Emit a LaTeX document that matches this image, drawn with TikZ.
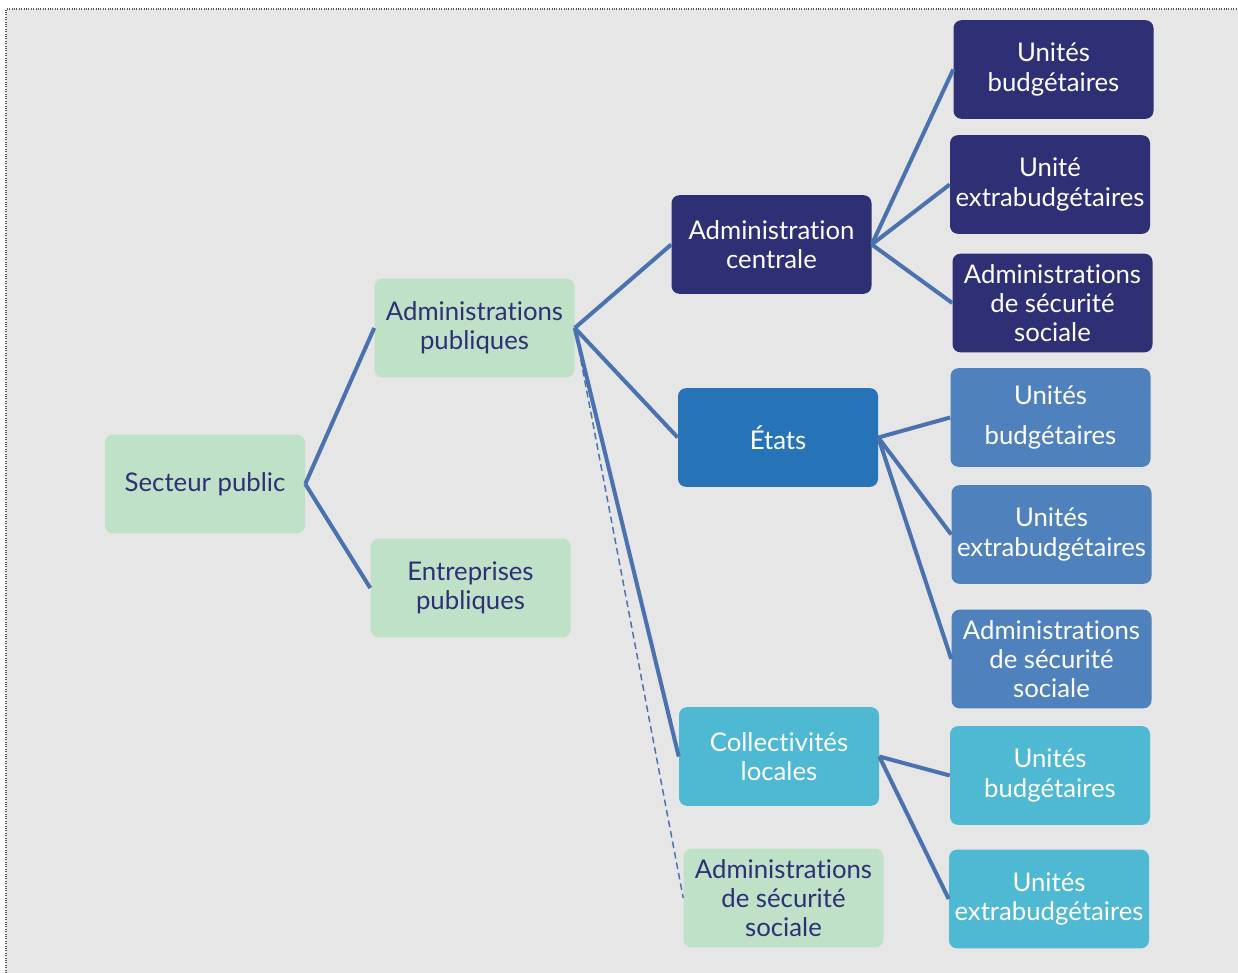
\documentclass[tikz,border=0pt]{standalone}
\usepackage{fontspec}
\setmainfont{Lato}[Ligatures=NoCommon]
\usepackage{tikz}
\usetikzlibrary{positioning, arrows.meta}
\definecolor{bgcol}{HTML}{E6E6E6}
\definecolor{navy}{HTML}{2E2F75}
\definecolor{greenbox}{HTML}{BFE1C8}
\definecolor{etatblue}{HTML}{2673B8}
\definecolor{midblue}{HTML}{4F81BD}
\definecolor{cyanbox}{HTML}{4FB8D3}
\definecolor{linkcol}{HTML}{4A72AE}
\tikzset{
  box/.style={
    rectangle, rounded corners=6pt,
    minimum width=150pt, minimum height=74pt,
    inner sep=2pt, align=center, font=\fontsize{19.3}{22}\selectfont
  },
  grn/.style={box, fill=greenbox, text=navy},
  drk/.style={box, fill=navy, text=white},
  eta/.style={box, fill=etatblue, text=white},
  mid/.style={box, fill=midblue, text=white},
  cyn/.style={box, fill=cyanbox, text=white},
  link/.style={linkcol, line width=3pt},
  dlink/.style={linkcol, line width=1.1pt, dash pattern=on 5pt off 3pt},
}

\begin{document}
\begin{tikzpicture}[x=0.75pt, y=-0.75pt]
    \useasboundingbox (0,0) rectangle (1238,973);
    \fill[bgcol] (6,9) rectangle (1238,973);
    \draw[gray!70!black, densely dotted, line width=0.8pt] (6,973) -- (6,9) -- (1238,9);

    % first and second levels
    \node[grn] (SP)  at (205,484)   {Secteur public};
    \node[grn] (AP)  at (474.5,328) {Administrations\\publiques};
    \node[grn] (EP)  at (470.5,588) {Entreprises\\publiques};

    % third level
    \node[drk] (AC)  at (771.5,244.5) {Administration\\centrale};
    \node[eta] (ET)  at (778,437.5)   {États};
    \node[cyn] (CL)  at (779,756.5)   {Collectivités\\locales};
    \node[grn] (ASS) at (783.5,898)   {Administrations\\de sécurité\\sociale};

    % right column
    \node[drk] (ACu) at (1053.5,69.5) {Unités\\budgétaires};
    \node[drk] (ACe) at (1050,184.5)  {Unité\\extrabudgétaires};
    \node[drk] (ACs) at (1052.5,303)  {Administrations\\de sécurité\\sociale};
    \node[mid] (ETu) at (1050.5,417.5) {Unités\\[8pt]budgétaires};
    \node[mid] (ETe) at (1051.5,534.5) {Unités\\extrabudgétaires};
    \node[mid] (ETs) at (1051.5,659)   {Administrations\\de sécurité\\sociale};
    \node[cyn] (CLu) at (1050,775.5)  {Unités\\budgétaires};
    \node[cyn] (CLe) at (1049,899)    {Unités\\extrabudgétaires};

    \draw[link] (SP.east) -- (AP.west);
    \draw[link] (SP.east) -- (EP.west);
    \draw[link] (AP.east) -- (AC.west);
    \draw[link] (AP.east) -- (ET.west);
    \draw[link] (AP.east) -- (CL.west);
    \draw[dlink] (AP.east) -- (ASS.west);
    \draw[link] (AC.east) -- (ACu.west);
    \draw[link] (AC.east) -- (ACe.west);
    \draw[link] (AC.east) -- (ACs.west);
    \draw[link] (ET.east) -- (ETu.west);
    \draw[link] (ET.east) -- (ETe.west);
    \draw[link] (ET.east) -- (ETs.west);
    \draw[link] (CL.east) -- (CLu.west);
    \draw[link] (CL.east) -- (CLe.west);
  \end{tikzpicture}
\end{document}
